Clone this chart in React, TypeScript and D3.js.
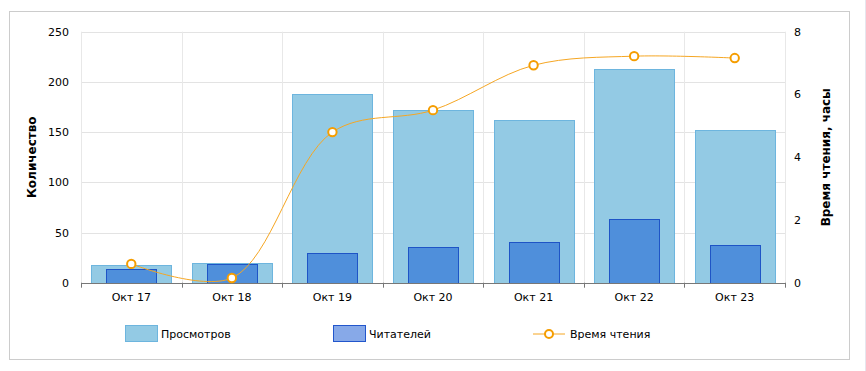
import React from "react";
import * as d3 from "d3";

const categories = ["Окт 17", "Окт 18", "Окт 19", "Окт 20", "Окт 21", "Окт 22", "Окт 23"];
const views = [18, 20, 188, 172, 162, 213, 152];
const readers = [14, 19, 30, 36, 41, 63, 38];
const readingTime = [0.6, 0.15, 4.8, 5.5, 6.93, 7.22, 7.16];
const leftTicks = [0, 50, 100, 150, 200, 250];
const rightTicks = [0, 2, 4, 6, 8];
const legendLabels = ["Просмотров", "Читателей", "Время чтения"];

const W = 866;
const H = 371;
const plot = { left: 81, right: 785, top: 31.7, bottom: 282.7 };
const FONT = "'DejaVu Sans', Verdana, sans-serif";

export default function App() {
  const x = d3.scaleBand<string>().domain(categories).range([plot.left, plot.right]).paddingInner(0).paddingOuter(0);
  const yL = d3.scaleLinear().domain([0, 250]).range([plot.bottom, plot.top]);
  const yR = d3.scaleLinear().domain([0, 8]).range([plot.bottom, plot.top]);
  const bw = x.bandwidth();
  const viewsW = bw * 0.795;
  const readersW = bw * 0.497;

  const linePts: [number, number][] = categories.map((c, i) => [x(c)! + bw / 2, yR(readingTime[i])]);
  const lineGen = d3.line().curve(d3.curveCatmullRom.alpha(0.5));
  const path = lineGen(linePts) || "";

  const boundaries = d3.range(categories.length + 1).map((i) => plot.left + i * bw);

  return (
    <svg width={W} height={H} style={{ position: "absolute", left: 0, top: 0, background: "#fff" }} fontFamily={FONT}>
      <defs>
        <clipPath id="plotclip">
          <rect x={plot.left} y={plot.top - 10} width={plot.right - plot.left} height={plot.bottom - plot.top + 10} />
        </clipPath>
      </defs>
      <rect x={9.5} y={11.5} width={840} height={348} fill="#fff" stroke="#cccccc" />
      <line x1={865.5} x2={865.5} y1={0} y2={H} stroke="#e6e6ee" />

      {leftTicks.map((t) => (
        <line key={"h" + t} x1={plot.left} x2={plot.right} y1={Math.round(yL(t)) + 0.5} y2={Math.round(yL(t)) + 0.5} stroke="#e3e3e3" />
      ))}
      {boundaries.map((b, i) => (
        <line key={"v" + i} x1={Math.round(b) + 0.5} x2={Math.round(b) + 0.5} y1={plot.top} y2={plot.bottom} stroke="#e8e8e8" />
      ))}

      {categories.map((c, i) => (
        <rect key={"vb" + c} x={Math.round(x(c)! + (bw - viewsW) / 2) + 0.5} y={Math.round(yL(views[i])) + 0.5}
          width={Math.round(viewsW)} height={Math.round(yL(0)) - Math.round(yL(views[i]))}
          fill="#93cae4" stroke="#6db5de" strokeWidth={1} />
      ))}
      {categories.map((c, i) => (
        <rect key={"rb" + c} x={Math.round(x(c)! + (bw - readersW) / 2) + 0.5} y={Math.round(yL(readers[i])) + 0.5}
          width={Math.round(readersW)} height={Math.round(yL(0)) - Math.round(yL(readers[i]))}
          fill="#4f8fdb" stroke="#1e54c6" strokeWidth={1} />
      ))}

      <line x1={plot.left} x2={plot.right} y1={Math.round(plot.bottom) + 0.5} y2={Math.round(plot.bottom) + 0.5} stroke="#777" />
      {boundaries.map((b, i) => (
        <line key={"t" + i} x1={Math.round(b) + 0.5} x2={Math.round(b) + 0.5} y1={plot.bottom} y2={plot.bottom + 5} stroke="#777" />
      ))}
      {categories.map((c) => (
        <text key={"xl" + c} x={x(c)! + bw / 2} y={301} textAnchor="middle" fontSize={11} fill="#000">{c}</text>
      ))}

      {leftTicks.map((t) => (
        <text key={"ly" + t} x={69} y={yL(t) + 4} textAnchor="end" fontSize={11} fill="#000">{t}</text>
      ))}
      {rightTicks.map((t) => (
        <text key={"ry" + t} x={794} y={yR(t) + 4} textAnchor="start" fontSize={11} fill="#000">{t}</text>
      ))}

      <text transform={`translate(36,${(plot.top + plot.bottom) / 2}) rotate(-90)`} textAnchor="middle" fontSize={12} fontWeight="bold" fill="#000">Количество</text>
      <text transform={`translate(830,${(plot.top + plot.bottom) / 2}) rotate(-90)`} textAnchor="middle" fontSize={12} fontWeight="bold" fill="#000">Время чтения, часы</text>

      <g clipPath="url(#plotclip)">
        <path d={path} fill="none" stroke="#f5a623" strokeWidth={1} />
      </g>
      {linePts.map((p, i) => (
        <circle key={"pt" + i} cx={p[0]} cy={p[1]} r={4.2} fill="#fff" stroke="#f59d00" strokeWidth={2} />
      ))}

      <rect x={125.5} y={325.5} width={32} height={16} fill="#93cae4" stroke="#6db5de" />
      <text x={161} y={338} fontSize={11} fill="#000">{legendLabels[0]}</text>
      <rect x={333.5} y={325.5} width={32} height={16} fill="#87a9e8" stroke="#2256cc" />
      <text x={369} y={338} fontSize={11} fill="#000">{legendLabels[1]}</text>
      <line x1={533} x2={565} y1={334} y2={334} stroke="#f5a623" strokeWidth={1} />
      <circle cx={549} cy={334} r={4} fill="#fff" stroke="#f59d00" strokeWidth={2} />
      <text x={570} y={338} fontSize={11} fill="#000">{legendLabels[2]}</text>
    </svg>
  );
}
